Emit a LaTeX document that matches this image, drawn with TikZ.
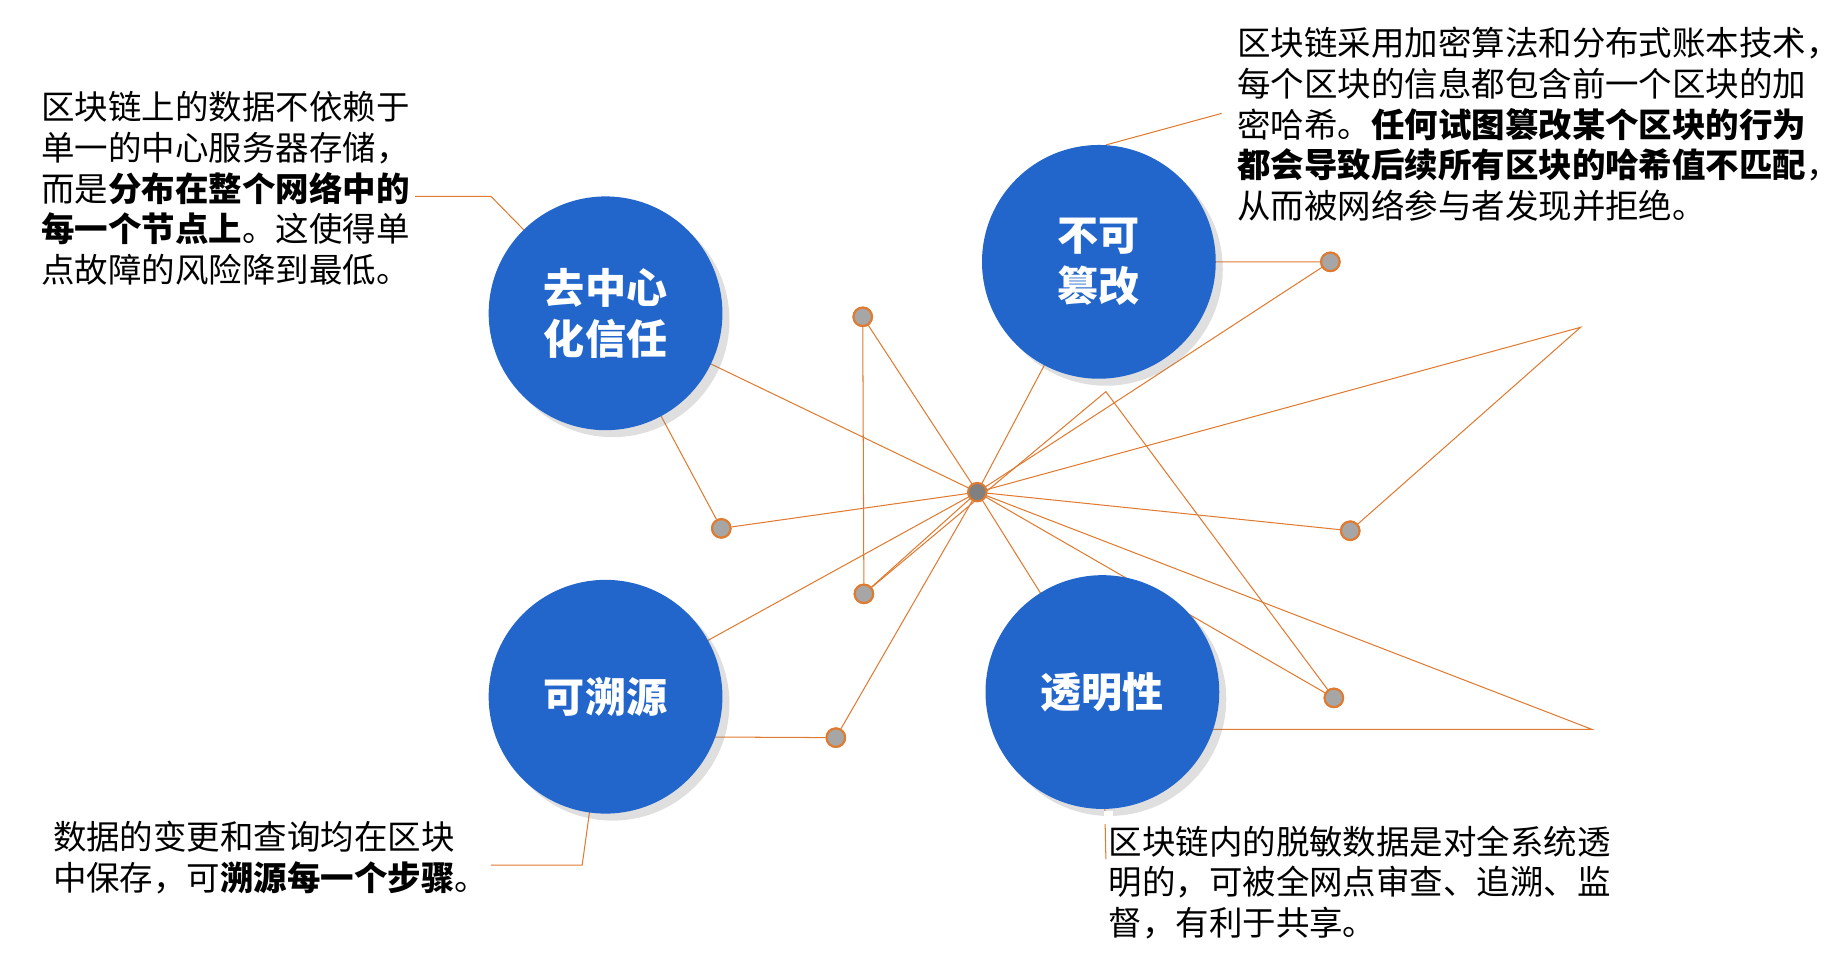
\documentclass[tikz,border=0pt]{standalone}
\usepackage{fontspec}
\setmainfont{Noto Sans CJK SC}
\usetikzlibrary{shadows}
\definecolor{cblue}{HTML}{2266CC}
\definecolor{lorange}{HTML}{E07A30}
\begin{document}
\begin{tikzpicture}[x=0.02cm,y=-0.02cm,
  bub/.style={circle,fill=cblue,minimum size=4cm,inner sep=0pt,text=white,font=\fontsize{20}{25}\selectfont\bfseries,align=center,drop shadow={shadow xshift=1.2mm,shadow yshift=-1.2mm,opacity=0.25}},
  ln/.style={draw=lorange,line width=0.5pt},
  dot/.style={circle,fill=gray!70,draw=lorange,line width=1pt,minimum size=9pt,inner sep=0pt},
  txt/.style={anchor=north west,align=left,inner sep=0pt,font=\fontsize{16.3}{19.8}\selectfont}]
\useasboundingbox (0,0) rectangle (1568,834);
\coordinate (hub) at (836,421);
\coordinate (pA) at (1352,280);
\coordinate (pB) at (1362,624);
\coordinate (pC) at (946,335);
\node[dot] (d1) at (738,271) {};
\node[dot] (d2) at (617,452) {};
\node[dot] (d3) at (739,508) {};
\node[dot] (d4) at (715,631) {};
\node[dot] (d5) at (1138,224) {};
\node[dot] (d6) at (1155,454) {};
\node[dot] (d7) at (1141,597) {};
\draw[ln] (hub) -- (518,268);
\draw[ln] (565,355) -- (d2) -- (hub);
\draw[ln] (d1) -- (d3);
\draw[ln] (d1) -- (hub);
\draw[ln] (hub) -- (d3);
\draw[ln] (hub) -- (518,596);
\draw[ln] (hub) -- (d4) -- (518,630);
\draw[ln] (hub) -- (940,224);
\draw[ln] (hub) -- (d5) -- (940,224);
\draw[ln] (hub) -- (pA) -- (d6);
\draw[ln] (hub) -- (d6);
\draw[ln] (hub) -- (pB) -- (943,624);
\draw[ln] (hub) -- (943,592);
\draw[ln] (hub) -- (d7);
\draw[ln] (d3) -- (pC) -- (d7);
\draw[ln] (355,168) -- (420,168) -- (518,268);
\draw[ln] (1045,97) -- (946,124);
\draw[ln] (518,596) -- (498,740) -- (420,740);
\draw[ln] (946,735) -- (943,592);
\node[bub] (c1) at (518,268) {去中心\\化信任};
\node[bub] (c2) at (940,224) {不可\\篡改};
\node[bub] (c3) at (518,596) {可溯源};
\node[bub] (c4) at (943,592) {透明性};
\node[dot] at (d1) {};\node[dot] at (d2) {};\node[dot] at (d3) {};\node[dot] at (d4) {};
\node[dot] at (d5) {};\node[dot] at (d6) {};\node[dot] at (d7) {};
\node[dot,fill=gray] (h) at (hub) {};
\fill[white] (944,694) rectangle (952,705);
\node[txt] (t1) at (35,78) {区块链上的数据不依赖于\\单一的中心服务器存储，\\而是\textbf{分布在整个网络中的}\\\textbf{每一个节点上}。这使得单\\点故障的风险降到最低。};
\node[txt] (t2) at (1058,23) {区块链采用加密算法和分布式账本技术，\\每个区块的信息都包含前一个区块的加\\密哈希。\textbf{任何试图篡改某个区块的行为}\\\textbf{都会导致后续所有区块的哈希值不匹配}，\\从而被网络参与者发现并拒绝。};
\node[txt] (t3) at (45,702) {数据的变更和查询均在区块\\中保存，可\textbf{溯源每一个步骤}。};
\node[txt] (t4) at (948,706) {区块链内的脱敏数据是对全系统透\\明的，可被全网点审查、追溯、监\\督，有利于共享。};
\end{tikzpicture}
\end{document}
